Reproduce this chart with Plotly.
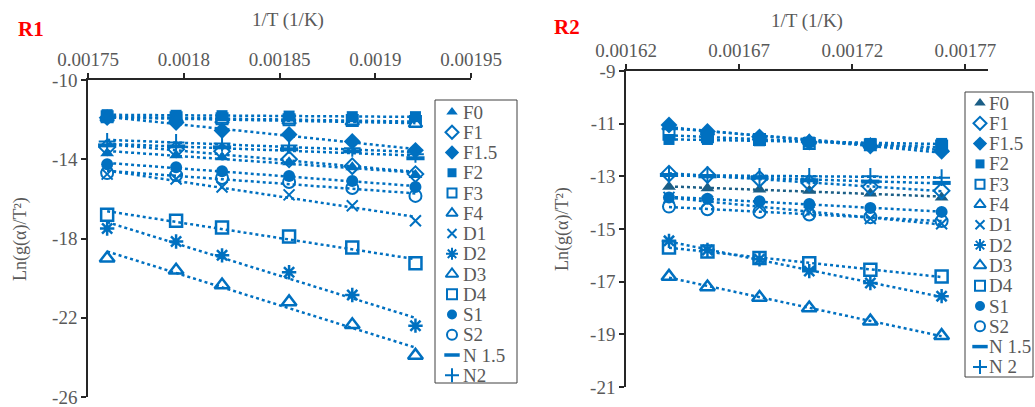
import numpy as np
import plotly.graph_objects as go

# ---------------- data ----------------
series_labels_r1 = ["F0", "F1", "F1.5", "F2", "F3", "F4", "D1", "D2", "D3", "D4", "S1", "S2", "N 1.5", "N2"]
series_labels_r2 = ["F0", "F1", "F1.5", "F2", "F3", "F4", "D1", "D2", "D3", "D4", "S1", "S2", "N 1.5", "N 2"]

# 1/T (1/K)
r1_inv_t = [0.001760, 0.001796, 0.001820, 0.001855, 0.001888, 0.001921]
r2_inv_t = [0.001639, 0.001656, 0.001679, 0.001701, 0.001728, 0.0017595]

# Ln(g(alpha)/T^2), reactor R1
r1_f0 = [-13.70, -13.80, -13.90, -14.15, -14.40, -14.80]
r1_f1 = [-13.40, -13.50, -13.60, -14.00, -14.35, -14.75]
r1_f15 = [-11.90, -12.15, -12.55, -12.75, -13.10, -13.55]
r1_f2 = [-11.75, -11.78, -11.80, -11.82, -11.85, -11.85]
r1_f3 = [-11.85, -11.90, -11.95, -12.00, -12.05, -12.10]
r1_f4 = [-11.90, -11.95, -12.00, -12.05, -12.10, -12.20]
r1_d1 = [-14.75, -15.00, -15.40, -15.80, -16.35, -17.10]
r1_d2 = [-17.50, -18.15, -18.85, -19.70, -20.85, -22.40]
r1_d3 = [-19.00, -19.60, -20.35, -21.20, -22.35, -23.90]
r1_d4 = [-16.80, -17.10, -17.45, -17.90, -18.45, -19.25]
r1_s1 = [-14.25, -14.40, -14.60, -14.85, -15.10, -15.40]
r1_s2 = [-14.70, -14.80, -14.95, -15.15, -15.45, -15.85]
r1_n15 = [-13.30, -13.35, -13.40, -13.50, -13.60, -13.95]
r1_n2 = [-13.10, -13.15, -13.20, -13.30, -13.45, -13.75]

# Ln(g(alpha)/T^2), reactor R2
r2_f0 = [-13.40, -13.45, -13.50, -13.55, -13.65, -13.80]
r2_f1 = [-12.90, -12.95, -13.10, -13.25, -13.40, -13.55]
r2_f15 = [-11.05, -11.30, -11.50, -11.70, -11.85, -12.05]
r2_f2 = [-11.60, -11.60, -11.65, -11.70, -11.75, -11.75]
r2_f3 = [-11.40, -11.50, -11.60, -11.75, -11.80, -11.85]
r2_f4 = [-11.10, -11.30, -11.50, -11.65, -11.80, -11.95]
r2_d1 = [-13.80, -13.95, -14.15, -14.35, -14.60, -14.80]
r2_d2 = [-15.45, -15.80, -16.15, -16.60, -17.05, -17.55]
r2_d3 = [-16.80, -17.20, -17.60, -18.00, -18.50, -19.05]
r2_d4 = [-15.70, -15.85, -16.10, -16.30, -16.55, -16.80]
r2_s1 = [-13.80, -13.85, -13.95, -14.05, -14.20, -14.35]
r2_s2 = [-14.15, -14.25, -14.35, -14.45, -14.55, -14.70]
r2_n15 = [-12.95, -13.00, -13.05, -13.15, -13.20, -13.25]
r2_n2 = [-12.95, -12.95, -13.00, -13.00, -13.00, -13.05]

r1_x_ticks = [0.00175, 0.0018, 0.00185, 0.0019, 0.00195]
r1_x_labels = ["0.00175", "0.0018", "0.00185", "0.0019", "0.00195"]
r1_y_ticks = [-10, -14, -18, -22, -26]
r1_y_labels = ["-10", "-14", "-18", "-22", "-26"]
r2_x_ticks = [0.00162, 0.00167, 0.00172, 0.00177]
r2_x_labels = ["0.00162", "0.00167", "0.00172", "0.00177"]
r2_y_ticks = [-9, -11, -13, -15, -17, -19, -21]
r2_y_labels = ["-9", "-11", "-13", "-15", "-17", "-19", "-21"]

r1_series = [r1_f0, r1_f1, r1_f15, r1_f2, r1_f3, r1_f4, r1_d1, r1_d2, r1_d3, r1_d4, r1_s1, r1_s2, r1_n15, r1_n2]
r2_series = [r2_f0, r2_f1, r2_f15, r2_f2, r2_f3, r2_f4, r2_d1, r2_d2, r2_d3, r2_d4, r2_s1, r2_s2, r2_n15, r2_n2]

# ---------------- styling ----------------
W, H = 1035, 407
BLUE = "#0070C0"
DARK = "#1B5E86"
GREY = "#595959"
FONT = "Liberation Serif, Times New Roman, serif"

# (symbol, size, outline width) for each model, in label order
marker_styles = [
    ("triangle-up", 12, 0),
    ("diamond-open", 12, 2),
    ("diamond", 13, 0),
    ("square", 11, 0),
    ("square-open", 11, 2),
    ("triangle-up-open", 12, 2),
    ("x-thin-open", 11, 2),
    ("asterisk-open", 12, 2.5),
    ("triangle-up-open", 13, 2.5),
    ("square-open", 12, 2.5),
    ("circle", 12, 0),
    ("circle-open", 12, 2),
    ("line-ew-open", 13, 4),
    ("cross-thin-open", 12, 2),
]


def px_x(p):
    return p / W


def px_y(p):
    return 1 - p / H


fig = go.Figure()

panels = [
    dict(xa="x", ya="y", xs=r1_inv_t, series=r1_series, labels=series_labels_r1, f0_color=BLUE),
    dict(xa="x2", ya="y2", xs=r2_inv_t, series=r2_series, labels=series_labels_r2, f0_color=DARK),
]

for panel in panels:
    xs = np.array(panel["xs"])
    # linear trendlines
    for i, ys in enumerate(panel["series"]):
        color = panel["f0_color"] if i == 0 else BLUE
        slope, icpt = np.polyfit(xs, np.array(ys), 1)
        xl = np.array([xs[0], xs[-1]])
        fig.add_trace(go.Scatter(
            x=xl, y=slope * xl + icpt, mode="lines", xaxis=panel["xa"], yaxis=panel["ya"],
            line=dict(color=color, width=2.5, dash="dot"), showlegend=False, hoverinfo="skip"))
    # data markers
    for i, ys in enumerate(panel["series"]):
        color = panel["f0_color"] if i == 0 else BLUE
        sym, size, lw = marker_styles[i]
        fig.add_trace(go.Scatter(
            x=xs, y=ys, mode="markers", xaxis=panel["xa"], yaxis=panel["ya"],
            name=panel["labels"][i], showlegend=False,
            marker=dict(symbol=sym, size=size, color=color,
                        line=dict(color=color, width=lw))))

# ---------------- legends (drawn on a pixel-space overlay axis) ----------------
legend_boxes = [
    dict(x0=435, y0=100, x1=517, y1=383, first=112, step=20.25, mx=452, tx=461,
         labels=series_labels_r1, f0_color=BLUE),
    dict(x0=965, y0=92, x1=1033, y1=377, first=103, step=20.3, mx=980, tx=987,
         labels=series_labels_r2, f0_color=DARK),
]
for box in legend_boxes:
    fig.add_shape(type="rect", xref="x3", yref="y3", x0=box["x0"], y0=box["y0"],
                  x1=box["x1"], y1=box["y1"], line=dict(color="#404040", width=1),
                  fillcolor="white", layer="below")
    for i, lab in enumerate(box["labels"]):
        cy = box["first"] + i * box["step"]
        color = box["f0_color"] if i == 0 else BLUE
        sym, size, lw = marker_styles[i]
        fig.add_trace(go.Scatter(
            x=[box["mx"]], y=[cy], mode="markers", xaxis="x3", yaxis="y3",
            showlegend=False, hoverinfo="skip",
            marker=dict(symbol=sym, size=max(size - 2, 9), color=color,
                        line=dict(color=color, width=min(lw, 2) if lw < 4 else 3.5))))
        fig.add_annotation(x=box["tx"], y=cy, xref="x3", yref="y3", text=lab,
                           showarrow=False, xanchor="left", yanchor="middle",
                           font=dict(family=FONT, size=19, color=GREY))

# ---------------- titles ----------------
texts = [
    ("R1", 31, 29, 0, dict(family=FONT, size=21, color="#FF0000", weight="bold")),
    ("R2", 567, 27, 0, dict(family=FONT, size=21, color="#FF0000", weight="bold")),
    ("1/T (1/K)", 288, 20, 0, dict(family=FONT, size=19, color=GREY)),
    ("1/T (1/K)", 807, 21, 0, dict(family=FONT, size=19, color=GREY)),
    ("Ln(g(α)/T²)", 20, 239, -90, dict(family=FONT, size=18, color=GREY)),
    ("Ln(g(α)/T²)", 562, 229, -90, dict(family=FONT, size=18, color=GREY)),
]
for txt, x, y, ang, font in texts:
    fig.add_annotation(x=x, y=y, xref="x3", yref="y3", text=txt, showarrow=False,
                       textangle=ang, xanchor="center", yanchor="middle", font=font)

axis_common = dict(showgrid=False, zeroline=False, showline=True, linecolor="#262626",
                   linewidth=1.5, ticks="outside", ticklen=5, tickwidth=1.5,
                   tickcolor="#262626", tickfont=dict(family=FONT, size=19, color=GREY),
                   fixedrange=True, automargin=False, ticklabeloverflow="allow")

fig.update_layout(
    width=W, height=H, margin=dict(l=0, r=0, t=0, b=0, autoexpand=False),
    paper_bgcolor="white", plot_bgcolor="rgba(0,0,0,0)", showlegend=False,
    xaxis=dict(domain=[px_x(88), px_x(471)], range=[0.00175, 0.00195], side="top",
               anchor="y", tickvals=r1_x_ticks, ticktext=r1_x_labels, **axis_common),
    yaxis=dict(domain=[px_y(397), px_y(80)], range=[-26, -10], anchor="x",
               tickvals=r1_y_ticks, ticktext=r1_y_labels, **axis_common),
    xaxis2=dict(domain=[px_x(626), px_x(988)], range=[0.00162, 0.00178], side="top",
                anchor="y2", tickvals=r2_x_ticks, ticktext=r2_x_labels, **axis_common),
    yaxis2=dict(domain=[px_y(387), px_y(71)], range=[-21, -9], anchor="x2",
                tickvals=r2_y_ticks, ticktext=r2_y_labels, **axis_common),
    xaxis3=dict(domain=[0, 1], range=[0, W], visible=False, anchor="y3",
                fixedrange=True, automargin=False),
    yaxis3=dict(domain=[0, 1], range=[H, 0], visible=False, anchor="x3",
                fixedrange=True, automargin=False),
)

fig.write_html("out.html")
